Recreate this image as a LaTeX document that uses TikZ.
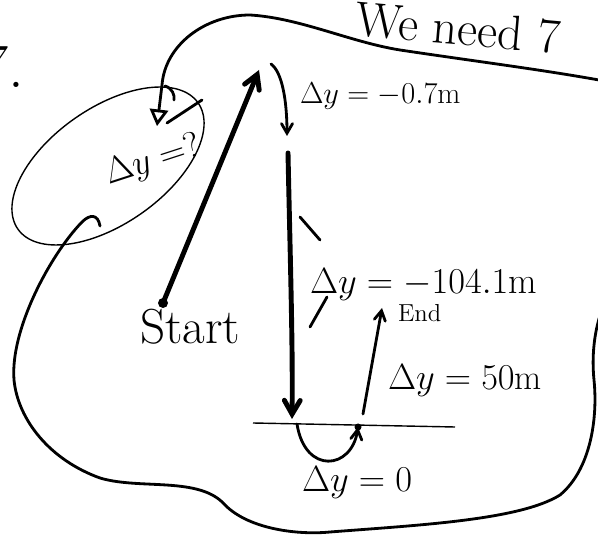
\documentclass[tikz,border=0pt]{standalone}
\usetikzlibrary{arrows}
\tikzstyle{hand} = [
    inner sep=0pt,
    outer sep=0pt
]
\tikzstyle{heavy} = [
    line width=2.8pt,
    line cap=round
]
\tikzstyle{blob} = [
    line width=1.6pt,
    line cap=round
]
\tikzstyle{thinline} = [line width=0.8pt]
\tikzstyle{arrow} = [->,>=angle 60]

\begin{document}
\begin{tikzpicture}[x=0.02cm, y=-0.02cm]
\useasboundingbox (0,0) rectangle (598,543);
\clip (0,0) rectangle (598,543);

% points of the path
\coordinate (start) at (163,303);
\coordinate (peak) at (259,70);
\coordinate (turn) at (271,64);
\coordinate (release) at (287,136);
\coordinate (fall) at (288,153);
\coordinate (impact) at (292,419);
\coordinate (groundL) at (253,423);
\coordinate (groundR) at (455,427);
\coordinate (leave) at (297,424);
\coordinate (bounce) at (358,427);
\coordinate (rise) at (363,414);
\coordinate (finish) at (382,308);
\coordinate (ell) at (108,166);
\coordinate (hook) at (100,226);
\coordinate (into) at (157,126);

% texts
\node (seven) [hand, anchor=base east, font=\fontsize{36}{40}\selectfont] at (24,88) {7.};
\node (need) [hand, anchor=base west, rotate=-5, font=\fontsize{28}{32}\selectfont] at (354,36) {We need 7};
\node (dyhit) [hand, anchor=base west, font=\fontsize{17}{20}\selectfont] at (300,104) {$\Delta y=-0.7$m};
\node (dyfall) [hand, anchor=base west, font=\fontsize{21}{24}\selectfont] at (310,294) {$\Delta y =-104.1$m};
\node (dyup) [hand, anchor=base west, font=\fontsize{20}{23}\selectfont] at (388,390) {$\Delta y=50$m};
\node (dyzero) [hand, anchor=base west, font=\fontsize{21}{24}\selectfont] at (302,491) {$\Delta y=0$};
\node (starttext) [hand, anchor=base west, font=\fontsize{28}{32}\selectfont] at (140,344) {Start};
\node (endtext) [hand, anchor=base west, font=\fontsize{14}{16}\selectfont] at (398,322) {End};
\node (dyask) [hand, rotate=18, font=\fontsize{21}{24}\selectfont] at (153,161) {$\Delta y=?$};

% the region
\draw [blob, arrow, >=open triangle 60] (hook) .. controls (98,214) and (90,214) .. (82,222)
    .. controls (50,255) and (10,330) .. (14,380)
    .. controls (18,420) and (50,460) .. (100,478)
    .. controls (140,490) and (200,476) .. (225,505)
    .. controls (250,530) and (300,535) .. (330,532)
    .. controls (420,525) and (520,520) .. (560,495)
    .. controls (590,470) and (598,420) .. (594,380)
    .. controls (590,340) and (600,300) .. (620,280)
    -- (620,84)
    .. controls (560,72) and (480,62) .. (400,50)
    .. controls (350,42) and (300,18) .. (250,15)
    .. controls (205,15) and (165,45) .. (162,85)
    -- (into);
\draw [blob] (165,86) .. controls (172,88) and (175,95) .. (174,100);
\draw [blob] (167,123) -- (202,100);
\draw [thinline, rotate around={35:(ell)}] (ell) ellipse (110 and 58);

% the motion
\fill (start) circle (5);
\draw [heavy, arrow] (start) -- (peak);
\draw [blob, arrow] (turn) .. controls (282,72) and (287,100) .. (release);
\draw [heavy, arrow] (fall) .. controls (290,250) and (293,350) .. (impact);
\draw [blob] (300,217) -- (320,240);
\draw [blob] (327,297) -- (310,327);
\draw [thinline] (groundL) -- (groundR);
\draw [blob, arrow] (leave) .. controls (305,475) and (352,470) .. (bounce);
\fill (bounce) circle (3.5);
\draw [blob, arrow] (rise) -- (finish);

\end{tikzpicture}
\end{document}
